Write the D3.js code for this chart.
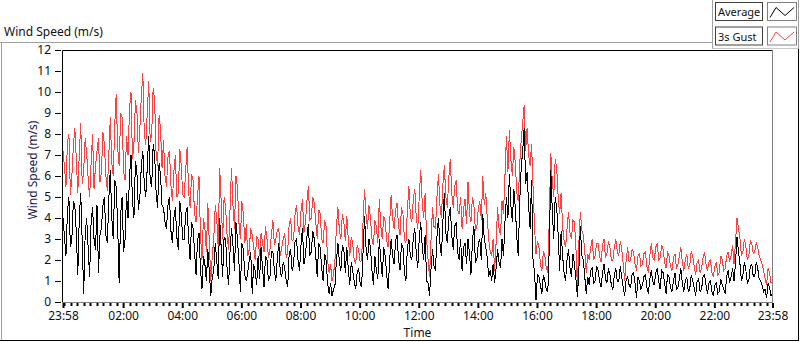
<!DOCTYPE html>
<html>
<head>
<meta charset="utf-8">
<script src="https://cdn.jsdelivr.net/npm/d3@7"></script>
<style>
  html, body { margin: 0; padding: 0; background: #fff; }
  svg { display: block; }
  text { font-family: "Noto Sans", "DejaVu Sans", sans-serif; }
</style>
</head>
<body>
<svg id="chart" width="800" height="342"></svg>
<script>
// ---- data (one sample every 3 minutes starting at 23:58) ----
const sampleStepMinutes = 3;
const gustValues = [
  7.2,6.4, 5.5,7.6, 8.0,5.1, 6.0,7.4, 8.3,6.8, 5.2,7.0, 8.5,5.6, 6.3,7.8, 7.1,5.9, 5.0,6.6, 8.0,5.4, 6.5,7.2, 7.8,5.7,
  6.2,8.1, 7.5,6.0, 5.3,7.0, 8.8,6.6, 6.0,8.4, 9.9,7.3, 6.5,9.0, 8.8,6.2, 5.8,7.9,
  7.0,9.2, 10.0,6.8, 7.5,9.6, 9.1,7.1, 8.3,9.8, 10.9,8.0,
  7.5,9.0, 10.5,7.6, 8.0,10.2, 9.6,7.0, 6.5,8.9, 8.2,6.4, 7.7,6.0,
  5.5,6.9, 7.2,5.6, 4.8,6.2, 7.0,5.0, 5.2,7.3, 6.5,5.1,
  5.0,6.3, 7.4,5.2, 4.5,6.1, 5.8,4.2, 3.8,5.0, 6.0,3.2,
  2.0,4.0, 3.5,2.4, 4.7,2.8, 1.0,2.2, 3.0,4.6,
  4.0,2.6, 6.4,4.8, 3.0,5.0, 4.5,3.2, 2.5,4.4, 6.4,4.6, 3.5,6.0, 5.5,3.8, 3.0,4.8, 4.2,2.8,
  3.7,2.2, 2.5,3.5, 3.2,2.6, 2.0,3.1, 3.0,2.2,
  3.3,2.8, 2.4,3.6, 3.0,2.1, 2.5,3.2,
  3.9,2.7, 3.0,3.4, 3.5,2.2, 2.6,3.0,
  3.3,2.1, 2.4,3.7, 4.0,2.9, 3.0,4.2,
  4.6,3.6, 3.2,4.3, 4.9,3.3, 3.8,4.8, 5.5,3.9, 4.0,5.0,
  4.7,3.8, 3.0,4.4, 4.2,3.0, 2.8,3.9, 3.6,2.0,
  1.4,1.8, 1.0,1.3, 2.0,3.6,
  4.5,3.4, 3.0,4.2, 3.8,2.9,
  4.1,3.0, 2.2,3.1, 2.8,2.0, 1.8,2.7, 2.5,1.9,
  2.0,3.8, 5.4,4.2, 3.5,4.6, 4.0,3.0, 2.7,3.9,
  3.6,2.8, 4.9,3.6, 3.0,4.1, 3.8,2.9, 2.6,3.8,
  5.1,4.0, 3.5,4.4, 4.7,3.6, 3.2,4.5, 4.2,3.0,
  2.8,4.4, 5.5,4.1, 3.8,4.9, 5.4,4.0, 3.5,5.0,
  6.3,4.8, 4.0,5.2, 3.0,2.0, 1.2,3.0, 4.5,3.6,
  3.5,5.0, 6.1,4.6, 4.0,5.6, 6.5,5.0, 4.5,5.9,
  6.8,5.2, 4.5,5.5, 5.8,4.4, 4.2,5.0,
  3.5,4.4, 4.9,3.7, 5.7,4.2, 3.8,5.0, 4.6,3.4,
  3.6,4.5, 4.8,3.9, 6.0,4.6, 5.2,4.0, 3.0,2.4,
  2.2,3.0, 1.5,2.8, 4.5,3.5, 3.2,4.8,
  4.2,6.0, 7.9,6.2,
  8.2,6.8, 6.0,7.4, 6.6,5.2, 4.8,6.6, 7.7,8.5,
  9.4,7.2, 8.3,7.0, 6.5,7.5, 5.5,3.6, 2.3,2.9,
  2.6,1.8, 1.5,2.4, 2.2,1.6, 1.4,4.0,
  7.1,5.8, 5.0,6.8, 6.4,5.0, 4.2,5.2,
  3.6,2.9, 2.6,3.5, 4.3,3.3, 3.0,3.9,
  3.8,2.6, 0.7,2.8, 4.3,3.4, 3.2,2.4,
  1.4,2.3, 2.0,2.6, 3.0,2.0, 2.2,2.8,
  2.8,2.2, 1.9,2.7, 3.0,2.1, 2.3,2.9, 2.6,2.0,
  2.0,2.6, 3.0,2.4, 2.2,2.9, 2.5,1.8, 1.0,2.0,
  2.6,1.9, 2.0,2.5, 2.4,1.8, 1.5,2.2, 2.3,1.7,
  1.8,2.3, 2.4,1.7, 1.4,2.2, 2.8,2.1, 2.0,2.6,
  2.8,2.0, 2.1,2.7,
  2.5,1.9, 1.6,2.4, 2.2,1.7, 1.5,2.1, 2.3,1.6,
  1.8,2.2, 2.6,1.9, 1.5,2.0, 2.3,1.6, 1.7,2.4,
  2.2,1.7, 1.3,1.9, 2.0,1.4, 1.6,2.1, 2.4,1.8,
  1.5,1.9, 2.0,1.4, 1.2,1.7, 1.9,1.3, 1.4,2.2,
  2.0,1.5, 1.6,2.2, 2.4,1.9, 2.2,2.7, 1.8,2.9,
  4.0,3.5, 3.0,2.2, 2.4,3.0, 2.6,2.0,
  2.2,2.9, 2.8,2.3, 2.4,2.8, 2.6,2.2, 2.0,1.8,
  1.5,1.1, 0.8,1.6, 1.4,0.9, 1.0
];
const averageValues = [
  4.0,3.1, 2.2,4.3, 5.0,2.6, 3.0,4.8, 4.6,3.3, 1.3,4.0, 5.2,2.9, 0.4,3.2, 4.0,2.6, 1.2,3.8, 4.5,3.0, 2.5,4.6, 1.4,3.2,
  3.5,4.6, 5.0,3.2, 2.8,4.9, 6.3,4.0, 3.0,5.8, 5.5,3.6, 0.9,4.2, 5.0,2.4, 3.0,5.2,
  4.0,6.0, 7.0,4.8, 4.0,6.7, 6.2,4.4, 5.0,6.5, 7.2,5.6,
  5.0,6.4, 7.9,5.8, 5.5,7.5, 7.0,5.2, 4.5,6.6, 6.0,4.6, 4.5,3.8,
  3.5,4.6, 5.0,3.4, 2.8,4.0, 4.5,3.1, 2.5,4.8, 4.2,3.0,
  3.0,4.2, 4.5,3.0, 2.0,3.8, 3.5,2.4, 1.3,2.9, 3.3,1.6,
  0.6,2.2, 1.8,1.0, 2.5,1.4, 0.3,1.2, 1.5,2.8,
  2.0,1.1, 4.0,2.6, 1.2,3.1, 3.0,1.6, 0.8,2.4, 3.5,2.7, 1.5,3.8, 3.0,1.9, 0.5,2.8, 2.5,1.3,
  1.0,1.4, 2.0,2.4, 0.4,1.8, 1.5,0.8, 2.2,1.1,
  2.6,1.6, 0.7,2.2, 2.0,1.0, 1.2,2.4,
  2.4,1.5, 1.0,2.1, 2.8,1.4, 1.2,1.9,
  1.6,1.0, 0.7,2.3, 2.5,1.5, 1.8,2.9,
  3.0,2.0, 1.5,2.7, 3.5,1.8, 2.2,3.1, 3.7,2.2, 2.4,3.4,
  3.0,2.2, 1.2,2.8, 2.6,1.6, 1.0,2.3, 2.0,0.9,
  0.4,0.9, 0.3,0.6, 0.8,2.0,
  2.8,1.9, 1.5,2.7, 2.5,1.4,
  2.6,1.6, 0.8,1.9, 1.5,1.0, 0.6,1.4, 1.6,0.9,
  0.7,2.4, 4.1,2.6, 2.0,3.0, 2.6,1.5, 0.8,2.2,
  1.5,1.1, 3.0,2.0, 1.2,2.6, 2.2,1.3, 0.6,2.0,
  3.0,2.2, 1.8,2.9, 3.2,2.0, 1.5,2.8, 2.6,1.4,
  1.0,2.6, 3.0,2.2, 2.0,3.1, 3.5,2.3, 1.6,3.0,
  3.8,2.7, 2.0,3.2, 1.0,0.9, 0.3,1.6, 2.5,1.7,
  1.5,3.1, 4.0,2.8, 2.2,3.8, 5.2,3.3, 2.8,4.0,
  4.5,3.2, 2.5,3.6, 3.8,2.4, 2.0,3.0,
  1.5,2.6, 2.8,1.8, 3.0,2.3, 1.3,2.9, 3.6,1.9,
  2.0,2.8, 3.0,2.0, 4.2,3.0, 2.6,2.1, 1.2,1.5,
  1.0,1.8, 0.9,1.6, 2.5,1.9, 1.6,3.0,
  2.2,3.8, 5.0,4.0,
  6.1,4.6, 3.8,5.4, 4.5,3.1, 2.2,4.8, 6.4,7.2,
  8.3,5.6, 6.2,4.6, 3.5,5.8, 2.0,1.4, 0.1,1.3,
  1.2,0.8, 0.4,1.3, 1.0,0.6, 0.5,2.6,
  6.3,4.4, 3.0,5.0, 4.5,3.2, 1.5,3.4,
  2.2,1.4, 1.0,2.0, 2.5,1.6, 1.2,2.3,
  1.8,1.1, 0.25,1.5, 3.6,2.2, 2.0,1.2,
  0.4,1.2, 0.8,1.5, 1.6,0.9, 1.0,1.7,
  1.5,1.0, 0.7,1.4, 1.8,1.1, 0.9,1.6, 1.3,0.8,
  0.6,1.3, 1.6,1.0, 1.0,1.7, 1.2,0.7, 0.3,1.1,
  1.2,0.8, 0.7,1.3, 1.4,0.9, 0.2,1.2, 1.0,0.6,
  0.8,1.2, 1.3,0.7, 0.4,1.1, 1.5,1.0, 0.8,1.4,
  1.6,1.0, 0.6,1.5,
  1.4,0.9, 0.4,1.3, 1.2,0.7, 0.5,1.0, 1.4,0.6,
  0.7,1.1, 1.6,0.9, 0.5,1.0, 1.2,0.5, 0.6,1.3,
  1.0,0.7, 0.3,1.0, 1.1,0.5, 0.6,1.2, 1.3,0.8,
  0.4,0.9, 1.0,0.5, 0.3,0.8, 0.9,0.4, 0.5,1.1,
  0.8,0.6, 0.4,1.2, 1.5,0.9, 1.2,1.6, 1.0,1.9,
  3.1,2.4, 1.8,1.0, 1.3,1.9, 1.5,0.9,
  1.0,1.7, 1.8,1.2, 1.2,1.9, 1.6,1.1, 1.0,0.8,
  0.5,0.6, 0.2,0.9, 0.7,0.3, 0.4
];
const xTickMinutes = [0, 122, 242, 362, 482, 602, 722, 842, 962, 1082, 1202, 1322, 1440];
const xTickLabels = ["23:58", "02:00", "04:00", "06:00", "08:00", "10:00", "12:00", "14:00", "16:00", "18:00", "20:00", "22:00", "23:58"];
const yTickValues = [0, 1, 2, 3, 4, 5, 6, 7, 8, 9, 10, 11, 12];
const seriesNames = ["Average", "3s Gust"];
const seriesColors = ["#000000", "#ff4040"];

// ---- layout ----
const svg = d3.select("#chart");
const plot = { left: 62.5, right: 772.5, top: 50.5, bottom: 302.5 };
const x = d3.scaleLinear().domain([0, 1440]).range([plot.left + 0.5, plot.right]);
const y = d3.scaleLinear().domain([0, 12]).range([302, 50]);

// outer frame
const frame = svg.append("g");
frame.append("line").attr("x1", 0).attr("x2", 712.5).attr("y1", 42.5).attr("y2", 42.5).attr("stroke", "#a0a0a0");
frame.append("line").attr("x1", 1.5).attr("x2", 1.5).attr("y1", 42.5).attr("y2", 341).attr("stroke", "#a0a0a0");
frame.append("line").attr("x1", 0).attr("x2", 799).attr("y1", 340.5).attr("y2", 340.5).attr("stroke", "#000");
frame.append("line").attr("x1", 798.5).attr("x2", 798.5).attr("y1", 49).attr("y2", 341).attr("stroke", "#000");

// title
svg.append("text").attr("x", 4).attr("y", 36).attr("font-size", 12).attr("fill", "#111").text("Wind Speed (m/s)");

// data lines
svg.append("clipPath").attr("id", "plotclip").append("rect")
  .attr("x", plot.left).attr("y", plot.top).attr("width", plot.right - plot.left).attr("height", plot.bottom - plot.top);
const line = d3.line().x((d, i) => x(i * sampleStepMinutes)).y(d => y(d));
const gLines = svg.append("g").attr("clip-path", "url(#plotclip)");
gLines.append("path").datum(gustValues).attr("d", line).attr("fill", "none")
  .attr("stroke", seriesColors[1]).attr("stroke-width", 1).attr("shape-rendering", "crispEdges");
gLines.append("path").datum(averageValues).attr("d", line).attr("fill", "none")
  .attr("stroke", seriesColors[0]).attr("stroke-width", 1).attr("shape-rendering", "crispEdges");

// plot border
svg.append("line").attr("x1", plot.left).attr("x2", plot.right).attr("y1", plot.top).attr("y2", plot.top).attr("stroke", "#000");
svg.append("line").attr("x1", plot.left).attr("x2", plot.left).attr("y1", plot.top).attr("y2", plot.bottom).attr("stroke", "#000");
svg.append("line").attr("x1", plot.right).attr("x2", plot.right).attr("y1", plot.top).attr("y2", plot.bottom).attr("stroke", "#808080");
svg.append("line").attr("x1", plot.left).attr("x2", plot.right).attr("y1", plot.bottom).attr("y2", plot.bottom).attr("stroke", "#808080");

// y axis
const yAxis = d3.axisLeft(y).tickValues(yTickValues).tickSize(6).tickPadding(4).tickFormat(d3.format("d"));
const gy = svg.append("g").attr("transform", "translate(" + (plot.left - 1.5) + ",0)").call(yAxis);
gy.select(".domain").remove();
gy.selectAll("line").attr("stroke", "#000");
gy.selectAll("text").attr("font-size", 12).attr("fill", "#111").attr("font-family", "Noto Sans, DejaVu Sans, sans-serif");

// x axis (major)
const xAxis = d3.axisBottom(x).tickValues(xTickMinutes).tickSize(5).tickPadding(3)
  .tickFormat((d, i) => xTickLabels[i]);
const gx = svg.append("g").attr("transform", "translate(0," + (plot.bottom + 0.5) + ")").call(xAxis);
gx.select(".domain").remove();
gx.selectAll("line").attr("stroke", "#000").attr("stroke-width", 2);
gx.selectAll("text").attr("font-size", 12).attr("fill", "#111").attr("font-family", "Noto Sans, DejaVu Sans, sans-serif");

// x axis (minor ticks: 9 subdivisions per 2 hours)
const minorStep = 120 / 9;
const minorTicks = [];
for (let m = xTickMinutes[1] - minorStep; m > 1; m -= minorStep) minorTicks.push(m);
for (let k = 1; k < xTickMinutes.length - 1; k++) {
  for (let j = 1; j < 9; j++) {
    const m = xTickMinutes[k] + j * minorStep;
    if (m < 1438) minorTicks.push(m);
  }
}
svg.append("g").selectAll("line").data(minorTicks).join("line")
  .attr("x1", d => Math.round(x(d)) + 0.5).attr("x2", d => Math.round(x(d)) + 0.5)
  .attr("y1", plot.bottom + 0.5).attr("y2", plot.bottom + 3.5).attr("stroke", "#000").attr("stroke-width", 2);

// axis titles
svg.append("text").attr("x", (plot.left + plot.right) / 2).attr("y", 337).attr("text-anchor", "middle")
  .attr("font-size", 12).attr("fill", "#111").text("Time");
svg.append("text").attr("transform", "translate(37,170) rotate(-90)").attr("text-anchor", "middle")
  .attr("font-size", 12).attr("fill", "#1a1a50").text("Wind Speed (m/s)");

// legend panel
const leg = svg.append("g");
leg.append("line").attr("x1", 712.5).attr("x2", 712.5).attr("y1", 0).attr("y2", 49).attr("stroke", "#a0a0a0");
leg.append("line").attr("x1", 712.5).attr("x2", 799).attr("y1", 48.5).attr("y2", 48.5).attr("stroke", "#c8c8c8");
leg.append("line").attr("x1", 798.5).attr("x2", 798.5).attr("y1", 0).attr("y2", 49).attr("stroke", "#a0a0a0");
seriesNames.forEach((name, i) => {
  const top = 2.5 + i * 24.5;
  leg.append("rect").attr("x", 715.5).attr("y", top).attr("width", 47).attr("height", 18)
    .attr("fill", "#fff").attr("stroke", "#404040");
  leg.append("text").attr("x", 718).attr("y", top + 13.5).attr("font-size", 11).attr("fill", "#111").text(name);
  leg.append("rect").attr("x", 767.5).attr("y", top).attr("width", 29).attr("height", 18)
    .attr("fill", "#fff").attr("stroke", "#808080");
  const icon = d3.line()([[770, top + 15], [776, top + 5], [785, top + 13], [794, top + 5]]);
  leg.append("path").attr("d", icon).attr("fill", "none").attr("stroke", seriesColors[i]).attr("stroke-width", 1);
});
</script>
</body>
</html>
